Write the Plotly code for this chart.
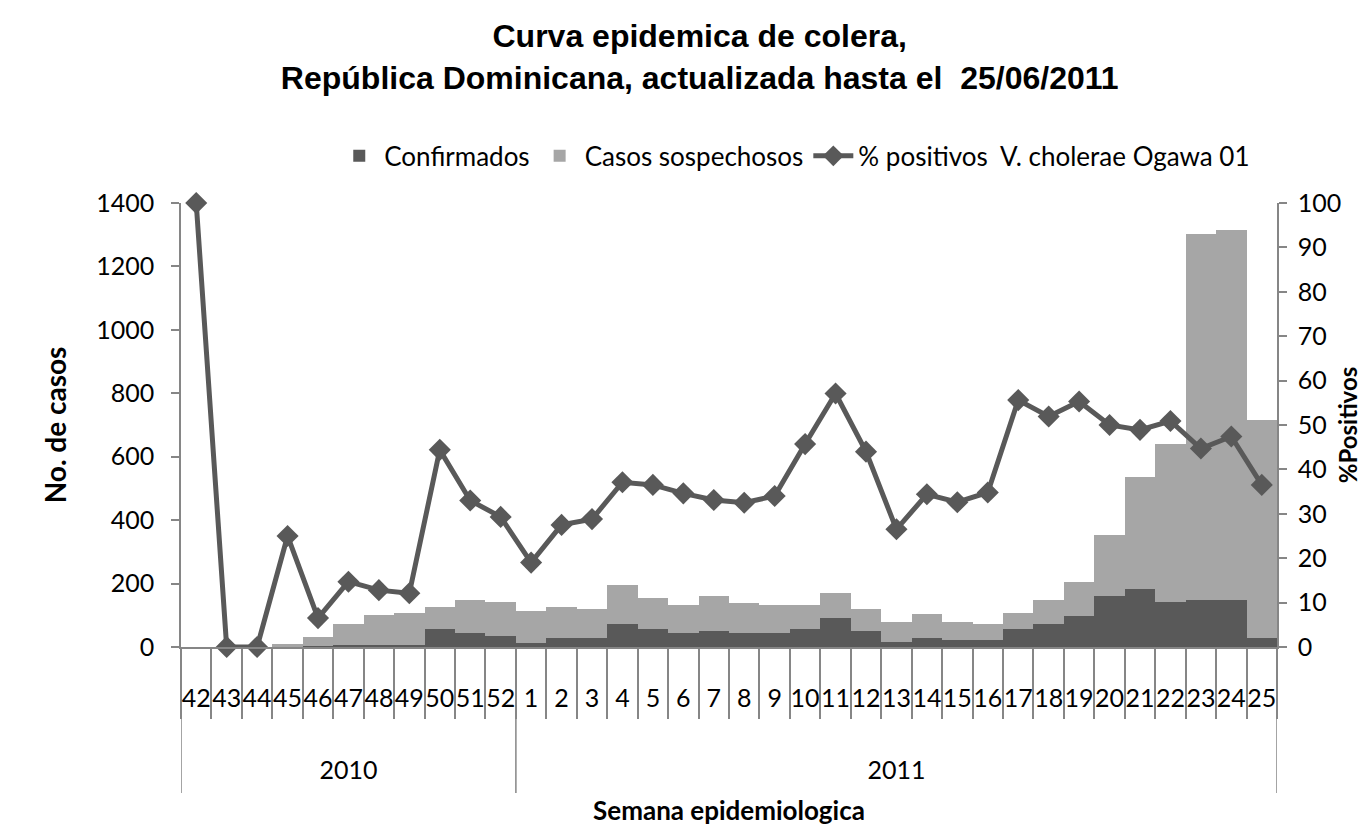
import plotly.graph_objects as go

years = ["2010"] * 11 + ["2011"] * 25
weeks = [str(w) for w in range(42, 53)] + [str(w) for w in range(1, 26)]

confirmados = [0, 0, 0, 0, 2, 5, 5, 5, 56, 43, 35,
               14, 28, 28, 72, 57, 43, 50, 43, 43, 57, 90, 50, 15, 28, 22, 22,
               57, 71, 99, 162, 183, 141, 148, 148, 28]
sospechosos = [0, 0, 0, 8, 31, 68, 96, 103, 71, 105, 107,
               100, 98, 92, 124, 98, 90, 112, 97, 90, 76, 79, 70, 63, 77, 56, 50,
               49, 76, 107, 190, 353, 498, 1155, 1168, 687]
positivos = [100, 0, 0, 25, 6.5, 14.7, 12.8, 12.1, 44.4, 33, 29.3,
             19, 27.5, 28.8, 37.1, 36.5, 34.6, 33.1, 32.5, 34, 45.7, 57.1, 44, 26.5, 34.4, 32.6, 34.8,
             55.6, 51.9, 55.3, 50, 48.9, 50.9, 44.7, 47.4, 36.5]

DARK = "#595959"
LIGHT = "#A6A6A6"
AXIS = "#868686"
FONT = "Lato"

n = len(weeks)
# year groups: boundaries and centres derived from the category list
year_names = []
year_start = []
for i, yname in enumerate(years):
    if not year_names or year_names[-1] != yname:
        year_names.append(yname)
        year_start.append(i)
year_end = year_start[1:] + [n]
year_centres = [(s + e - 1) / 2 for s, e in zip(year_start, year_end)]
boundaries = [s - 0.5 for s in year_start] + [n - 0.5]

fig = go.Figure()
fig.add_trace(go.Bar(x=weeks, y=confirmados, name="Confirmados",
                     marker=dict(color=DARK, line=dict(width=0))))
fig.add_trace(go.Bar(x=weeks, y=sospechosos, name="Casos sospechosos",
                     marker=dict(color=LIGHT, line=dict(width=0))))
fig.add_trace(go.Scatter(x=weeks, y=positivos, name="% positivos  V. cholerae Ogawa 01",
                         mode="lines+markers", yaxis="y2", cliponaxis=False,
                         line=dict(color=DARK, width=5),
                         marker=dict(symbol="diamond", size=17, color=DARK)))
# carrier for the year axis
fig.add_trace(go.Scatter(x=[], y=[], xaxis="x3", yaxis="y", showlegend=False, hoverinfo="skip"))

for b in boundaries:
    fig.add_shape(type="line", xref="x3", yref="paper", x0=b, x1=b, y0=0, y1=0.2475,
                  line=dict(color=AXIS, width=1.5), layer="below")

fig.update_layout(
    width=1367, height=831,
    barmode="stack", bargap=0,
    plot_bgcolor="white", paper_bgcolor="white",
    margin=dict(l=173, r=98, t=195, b=46, autoexpand=False),
    font=dict(family=FONT, size=25, color="black"),
    title=dict(text="<b>Curva epidemica de colera,<br>República Dominicana, actualizada hasta el  25/06/2011</b>",
               x=0.506, xanchor="center", y=0.953, yanchor="middle",
               font=dict(family="Liberation Sans", size=32, color="black")),
    legend=dict(orientation="h", x=0.56, xanchor="center", yref="container", y=0.822, yanchor="middle",
                font=dict(family=FONT, size=26), traceorder="normal", itemwidth=40),
    showlegend=True,
    xaxis=dict(
        type="category", range=[-0.5, n - 0.5], dtick=1, tickangle=0, automargin=False,
        showline=True, linecolor=AXIS, linewidth=1.5, anchor="y",
        ticks="outside", tickson="boundaries", ticklen=70, tickcolor=AXIS, tickwidth=1.5,
        showgrid=False, ticklabelstandoff=28,
        tickfont=dict(family=FONT, size=25),
    ),
    xaxis3=dict(
        type="linear", range=[-0.5, n - 0.5], overlaying="x", anchor="free", position=0.068,
        side="bottom", tickmode="array", tickvals=year_centres, ticktext=year_names,
        showline=False, ticks="", showgrid=False, zeroline=False, automargin=True,
        tickfont=dict(family=FONT, size=25),
        title=dict(text="<b>Semana epidemiologica</b>", font=dict(family=FONT, size=26), standoff=18),
    ),
    yaxis=dict(
        domain=[0.2475, 1],
        range=[0, 1400], dtick=200, showgrid=False, zeroline=False, automargin=True,
        showline=True, linecolor=AXIS, linewidth=1.5,
        ticks="outside", ticklen=8, tickcolor=AXIS, tickwidth=1.5, ticklabelstandoff=12,
        tickfont=dict(family=FONT, size=25),
        title=dict(text="<b>No. de casos</b>", font=dict(family=FONT, size=28), standoff=21),
    ),
    yaxis2=dict(
        domain=[0.2475, 1], overlaying="y", side="right", anchor="x",
        range=[0, 100], dtick=10, showgrid=False, zeroline=False, automargin=True,
        showline=True, linecolor=AXIS, linewidth=1.5,
        ticks="outside", ticklen=8, tickcolor=AXIS, tickwidth=1.5, ticklabelstandoff=6,
        tickfont=dict(family=FONT, size=25),
        title=dict(text="<b>%Positivos</b>", font=dict(family=FONT, size=24), standoff=0),
    ),
)

fig.write_html("out.html")
